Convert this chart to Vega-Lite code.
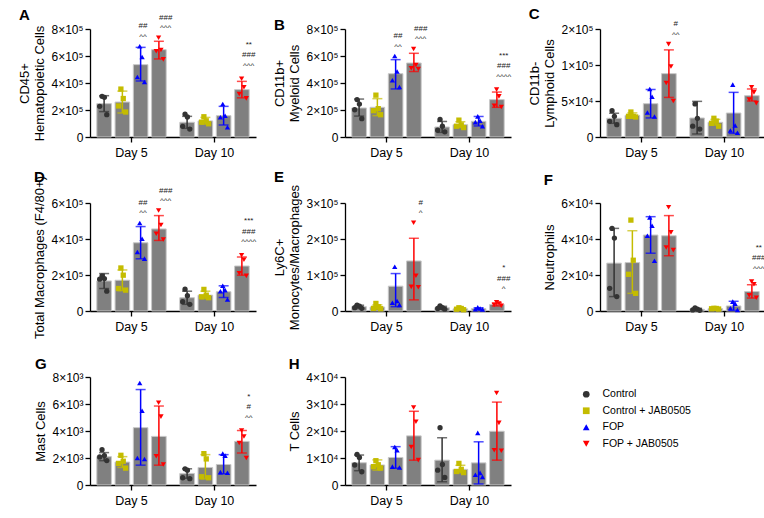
{
"$schema":"https://vega.github.io/schema/vega-lite/v6.json",
"padding":{"left":18,"top":6,"right":5,"bottom":5},
"background":"#ffffff",
"config":{
 "font":"Liberation Sans",
 "view":{"stroke":null},
 "axis":{"domainColor":"#000000","domainWidth":1.3,"tickColor":"#000000","tickWidth":1.3,"tickSize":5,"labelColor":"#000000","labelFontSize":12,"titleColor":"#000000","titleFontSize":13,"titleFontWeight":"normal","grid":false,"labelPadding":2,"titlePadding":4,"labelOverlap":false},
 "axisX":{"labelFontSize":12.5,"labelAngle":0,"labelPadding":4},
 "title":{"anchor":"start","frame":"bounds","fontSize":15,"fontWeight":"bold","color":"#000000","offset":2},
 "legend":{"padding":0}
},
"columns":3,
"bounds":"flush",
"spacing":{"row":66,"column":89},
"resolve":{"legend":{"color":"independent","shape":"independent"},"scale":{"xOffset":"independent"}},
"datasets":{"all":[
{"p":"A","d":"Day 5","g":"Control","k":"C1","v":301000},{"p":"A","d":"Day 5","g":"Control","k":"C2","v":294000},{"p":"A","d":"Day 5","g":"Control","k":"C3","v":227000},{"p":"A","d":"Day 5","g":"Control","k":"C4","v":165000},
{"p":"A","d":"Day 5","g":"Control + JAB0505","k":"J1","v":355000},{"p":"A","d":"Day 5","g":"Control + JAB0505","k":"J2","v":285000},{"p":"A","d":"Day 5","g":"Control + JAB0505","k":"J3","v":230000},{"p":"A","d":"Day 5","g":"Control + JAB0505","k":"J4","v":185000},
{"p":"A","d":"Day 5","g":"FOP","k":"F1","v":672000},{"p":"A","d":"Day 5","g":"FOP","k":"F2","v":593000},{"p":"A","d":"Day 5","g":"FOP","k":"F3","v":444000},{"p":"A","d":"Day 5","g":"FOP","k":"F4","v":407000},
{"p":"A","d":"Day 5","g":"FOP + JAB0505","k":"R1","v":735000},{"p":"A","d":"Day 5","g":"FOP + JAB0505","k":"R2","v":645000},{"p":"A","d":"Day 5","g":"FOP + JAB0505","k":"R3","v":635000},{"p":"A","d":"Day 5","g":"FOP + JAB0505","k":"R4","v":575000},
{"p":"A","d":"Day 10","g":"Control","k":"C1","v":170000},{"p":"A","d":"Day 10","g":"Control","k":"C2","v":148000},{"p":"A","d":"Day 10","g":"Control","k":"C3","v":79000},{"p":"A","d":"Day 10","g":"Control","k":"C4","v":59000},
{"p":"A","d":"Day 10","g":"Control + JAB0505","k":"J1","v":150000},{"p":"A","d":"Day 10","g":"Control + JAB0505","k":"J2","v":120000},{"p":"A","d":"Day 10","g":"Control + JAB0505","k":"J3","v":110000},{"p":"A","d":"Day 10","g":"Control + JAB0505","k":"J4","v":98000},
{"p":"A","d":"Day 10","g":"FOP","k":"F1","v":244000},{"p":"A","d":"Day 10","g":"FOP","k":"F2","v":158000},{"p":"A","d":"Day 10","g":"FOP","k":"F3","v":146000},{"p":"A","d":"Day 10","g":"FOP","k":"F4","v":72000},
{"p":"A","d":"Day 10","g":"FOP + JAB0505","k":"R1","v":432000},{"p":"A","d":"Day 10","g":"FOP + JAB0505","k":"R2","v":368000},{"p":"A","d":"Day 10","g":"FOP + JAB0505","k":"R3","v":319000},{"p":"A","d":"Day 10","g":"FOP + JAB0505","k":"R4","v":286000},
{"p":"A","d":"Day 5","g":"Control","m":247000,"lo":188000,"hi":306000},
{"p":"A","d":"Day 5","g":"Control + JAB0505","m":259000,"lo":178000,"hi":340000},
{"p":"A","d":"Day 5","g":"FOP","m":536000,"lo":415000,"hi":664000,"s":"##\n^^","top":672000},
{"p":"A","d":"Day 5","g":"FOP + JAB0505","m":647000,"lo":578000,"hi":709000,"s":"###\n^^^","top":735000},
{"p":"A","d":"Day 10","g":"Control","m":109000,"lo":64000,"hi":153000},
{"p":"A","d":"Day 10","g":"Control + JAB0505","m":119000,"lo":95000,"hi":145000},
{"p":"A","d":"Day 10","g":"FOP","m":158000,"lo":89000,"hi":227000},
{"p":"A","d":"Day 10","g":"FOP + JAB0505","m":351000,"lo":290000,"hi":412000,"s":"**\n###\n^^^","top":432000},

{"p":"B","d":"Day 5","g":"Control","k":"C1","v":277000},{"p":"B","d":"Day 5","g":"Control","k":"C2","v":244000},{"p":"B","d":"Day 5","g":"Control","k":"C3","v":202000},{"p":"B","d":"Day 5","g":"Control","k":"C4","v":136000},
{"p":"B","d":"Day 5","g":"Control + JAB0505","k":"J1","v":310000},{"p":"B","d":"Day 5","g":"Control + JAB0505","k":"J2","v":210000},{"p":"B","d":"Day 5","g":"Control + JAB0505","k":"J3","v":195000},{"p":"B","d":"Day 5","g":"Control + JAB0505","k":"J4","v":165000},
{"p":"B","d":"Day 5","g":"FOP","k":"F1","v":600000},{"p":"B","d":"Day 5","g":"FOP","k":"F2","v":485000},{"p":"B","d":"Day 5","g":"FOP","k":"F3","v":420000},{"p":"B","d":"Day 5","g":"FOP","k":"F4","v":370000},
{"p":"B","d":"Day 5","g":"FOP + JAB0505","k":"R1","v":652000},{"p":"B","d":"Day 5","g":"FOP + JAB0505","k":"R2","v":533000},{"p":"B","d":"Day 5","g":"FOP + JAB0505","k":"R3","v":509000},{"p":"B","d":"Day 5","g":"FOP + JAB0505","k":"R4","v":504000},
{"p":"B","d":"Day 10","g":"Control","k":"C1","v":130000},{"p":"B","d":"Day 10","g":"Control","k":"C2","v":80000},{"p":"B","d":"Day 10","g":"Control","k":"C3","v":50000},{"p":"B","d":"Day 10","g":"Control","k":"C4","v":38000},
{"p":"B","d":"Day 10","g":"Control + JAB0505","k":"J1","v":125000},{"p":"B","d":"Day 10","g":"Control + JAB0505","k":"J2","v":90000},{"p":"B","d":"Day 10","g":"Control + JAB0505","k":"J3","v":80000},{"p":"B","d":"Day 10","g":"Control + JAB0505","k":"J4","v":70000},
{"p":"B","d":"Day 10","g":"FOP","k":"F1","v":153000},{"p":"B","d":"Day 10","g":"FOP","k":"F2","v":120000},{"p":"B","d":"Day 10","g":"FOP","k":"F3","v":110000},{"p":"B","d":"Day 10","g":"FOP","k":"F4","v":80000},
{"p":"B","d":"Day 10","g":"FOP + JAB0505","k":"R1","v":351000},{"p":"B","d":"Day 10","g":"FOP + JAB0505","k":"R2","v":301000},{"p":"B","d":"Day 10","g":"FOP + JAB0505","k":"R3","v":232000},{"p":"B","d":"Day 10","g":"FOP + JAB0505","k":"R4","v":222000},
{"p":"B","d":"Day 5","g":"Control","m":215000,"lo":155000,"hi":281000},
{"p":"B","d":"Day 5","g":"Control + JAB0505","m":220000,"lo":158000,"hi":284000},
{"p":"B","d":"Day 5","g":"FOP","m":469000,"lo":356000,"hi":573000,"s":"##\n^^","top":600000},
{"p":"B","d":"Day 5","g":"FOP + JAB0505","m":548000,"lo":485000,"hi":620000,"s":"###\n^^^","top":652000},
{"p":"B","d":"Day 10","g":"Control","m":74000,"lo":34000,"hi":115000},
{"p":"B","d":"Day 10","g":"Control + JAB0505","m":91000,"lo":70000,"hi":113000},
{"p":"B","d":"Day 10","g":"FOP","m":116000,"lo":82000,"hi":152000},
{"p":"B","d":"Day 10","g":"FOP + JAB0505","m":277000,"lo":220000,"hi":333000,"s":"***\n###\n^^^^","top":351000},

{"p":"C","d":"Day 5","g":"Control","k":"C1","v":36600},{"p":"C","d":"Day 5","g":"Control","k":"C2","v":28700},{"p":"C","d":"Day 5","g":"Control","k":"C3","v":21800},{"p":"C","d":"Day 5","g":"Control","k":"C4","v":17100},
{"p":"C","d":"Day 5","g":"Control + JAB0505","k":"J1","v":34700},{"p":"C","d":"Day 5","g":"Control + JAB0505","k":"J2","v":28700},{"p":"C","d":"Day 5","g":"Control + JAB0505","k":"J3","v":28700},{"p":"C","d":"Day 5","g":"Control + JAB0505","k":"J4","v":27800},
{"p":"C","d":"Day 5","g":"FOP","k":"F1","v":66700},{"p":"C","d":"Day 5","g":"FOP","k":"F2","v":56000},{"p":"C","d":"Day 5","g":"FOP","k":"F3","v":34000},{"p":"C","d":"Day 5","g":"FOP","k":"F4","v":28500},
{"p":"C","d":"Day 5","g":"FOP + JAB0505","k":"R1","v":129000},{"p":"C","d":"Day 5","g":"FOP + JAB0505","k":"R2","v":98000},{"p":"C","d":"Day 5","g":"FOP + JAB0505","k":"R3","v":75000},{"p":"C","d":"Day 5","g":"FOP + JAB0505","k":"R4","v":50000},
{"p":"C","d":"Day 10","g":"Control","k":"C1","v":46000},{"p":"C","d":"Day 10","g":"Control","k":"C2","v":26000},{"p":"C","d":"Day 10","g":"Control","k":"C3","v":15000},{"p":"C","d":"Day 10","g":"Control","k":"C4","v":11000},
{"p":"C","d":"Day 10","g":"Control + JAB0505","k":"J1","v":26000},{"p":"C","d":"Day 10","g":"Control + JAB0505","k":"J2","v":22000},{"p":"C","d":"Day 10","g":"Control + JAB0505","k":"J3","v":19000},{"p":"C","d":"Day 10","g":"Control + JAB0505","k":"J4","v":15000},
{"p":"C","d":"Day 10","g":"FOP","k":"F1","v":72700},{"p":"C","d":"Day 10","g":"FOP","k":"F2","v":16000},{"p":"C","d":"Day 10","g":"FOP","k":"F3","v":9000},{"p":"C","d":"Day 10","g":"FOP","k":"F4","v":6000},
{"p":"C","d":"Day 10","g":"FOP + JAB0505","k":"R1","v":69000},{"p":"C","d":"Day 10","g":"FOP + JAB0505","k":"R2","v":62000},{"p":"C","d":"Day 10","g":"FOP + JAB0505","k":"R3","v":52000},{"p":"C","d":"Day 10","g":"FOP + JAB0505","k":"R4","v":47000},
{"p":"C","d":"Day 5","g":"Control","m":26000,"lo":19000,"hi":33000},
{"p":"C","d":"Day 5","g":"Control + JAB0505","m":30000,"lo":27000,"hi":33500},
{"p":"C","d":"Day 5","g":"FOP","m":46300,"lo":26500,"hi":66000},
{"p":"C","d":"Day 5","g":"FOP + JAB0505","m":88000,"lo":55000,"hi":121000,"s":"#\n^^","top":129000},
{"p":"C","d":"Day 10","g":"Control","m":26400,"lo":4200,"hi":49500},
{"p":"C","d":"Day 10","g":"Control + JAB0505","m":20400,"lo":16500,"hi":24500},
{"p":"C","d":"Day 10","g":"FOP","m":33300,"lo":5000,"hi":62000},
{"p":"C","d":"Day 10","g":"FOP + JAB0505","m":57400,"lo":50000,"hi":66700},

{"p":"D","d":"Day 5","g":"Control","k":"C1","v":195000},{"p":"D","d":"Day 5","g":"Control","k":"C2","v":180000},{"p":"D","d":"Day 5","g":"Control","k":"C3","v":177000},{"p":"D","d":"Day 5","g":"Control","k":"C4","v":110000},
{"p":"D","d":"Day 5","g":"Control + JAB0505","k":"J1","v":239000},{"p":"D","d":"Day 5","g":"Control + JAB0505","k":"J2","v":199000},{"p":"D","d":"Day 5","g":"Control + JAB0505","k":"J3","v":125000},{"p":"D","d":"Day 5","g":"Control + JAB0505","k":"J4","v":116000},
{"p":"D","d":"Day 5","g":"FOP","k":"F1","v":489000},{"p":"D","d":"Day 5","g":"FOP","k":"F2","v":401000},{"p":"D","d":"Day 5","g":"FOP","k":"F3","v":328000},{"p":"D","d":"Day 5","g":"FOP","k":"F4","v":291000},
{"p":"D","d":"Day 5","g":"FOP + JAB0505","k":"R1","v":558000},{"p":"D","d":"Day 5","g":"FOP + JAB0505","k":"R2","v":478000},{"p":"D","d":"Day 5","g":"FOP + JAB0505","k":"R3","v":429000},{"p":"D","d":"Day 5","g":"FOP + JAB0505","k":"R4","v":397000},
{"p":"D","d":"Day 10","g":"Control","k":"C1","v":121000},{"p":"D","d":"Day 10","g":"Control","k":"C2","v":85000},{"p":"D","d":"Day 10","g":"Control","k":"C3","v":52000},{"p":"D","d":"Day 10","g":"Control","k":"C4","v":37000},
{"p":"D","d":"Day 10","g":"Control + JAB0505","k":"J1","v":120000},{"p":"D","d":"Day 10","g":"Control + JAB0505","k":"J2","v":88000},{"p":"D","d":"Day 10","g":"Control + JAB0505","k":"J3","v":79000},{"p":"D","d":"Day 10","g":"Control + JAB0505","k":"J4","v":74000},
{"p":"D","d":"Day 10","g":"FOP","k":"F1","v":140000},{"p":"D","d":"Day 10","g":"FOP","k":"F2","v":116000},{"p":"D","d":"Day 10","g":"FOP","k":"F3","v":110000},{"p":"D","d":"Day 10","g":"FOP","k":"F4","v":64000},
{"p":"D","d":"Day 10","g":"FOP + JAB0505","k":"R1","v":310000},{"p":"D","d":"Day 10","g":"FOP + JAB0505","k":"R2","v":285000},{"p":"D","d":"Day 10","g":"FOP + JAB0505","k":"R3","v":210000},{"p":"D","d":"Day 10","g":"FOP + JAB0505","k":"R4","v":195000},
{"p":"D","d":"Day 5","g":"Control","m":167000,"lo":125000,"hi":208000},
{"p":"D","d":"Day 5","g":"Control + JAB0505","m":171000,"lo":113000,"hi":228000},
{"p":"D","d":"Day 5","g":"FOP","m":379000,"lo":290000,"hi":469000,"s":"##\n^^","top":489000},
{"p":"D","d":"Day 5","g":"FOP + JAB0505","m":456000,"lo":392000,"hi":530000,"s":"###\n^^^","top":558000},
{"p":"D","d":"Day 10","g":"Control","m":74000,"lo":37000,"hi":110000},
{"p":"D","d":"Day 10","g":"Control + JAB0505","m":88000,"lo":68000,"hi":110000},
{"p":"D","d":"Day 10","g":"FOP","m":107000,"lo":75000,"hi":140000},
{"p":"D","d":"Day 10","g":"FOP + JAB0505","m":250000,"lo":199000,"hi":300000,"s":"***\n###\n^^^^","top":310000},

{"p":"E","d":"Day 5","g":"Control","k":"C1","v":16500},{"p":"E","d":"Day 5","g":"Control","k":"C2","v":13700},{"p":"E","d":"Day 5","g":"Control","k":"C3","v":9200},{"p":"E","d":"Day 5","g":"Control","k":"C4","v":7300},
{"p":"E","d":"Day 5","g":"Control + JAB0505","k":"J1","v":21000},{"p":"E","d":"Day 5","g":"Control + JAB0505","k":"J2","v":11900},{"p":"E","d":"Day 5","g":"Control + JAB0505","k":"J3","v":7300},{"p":"E","d":"Day 5","g":"Control + JAB0505","k":"J4","v":6400},
{"p":"E","d":"Day 5","g":"FOP","k":"F1","v":123000},{"p":"E","d":"Day 5","g":"FOP","k":"F2","v":28000},{"p":"E","d":"Day 5","g":"FOP","k":"F3","v":23000},{"p":"E","d":"Day 5","g":"FOP","k":"F4","v":17000},
{"p":"E","d":"Day 5","g":"FOP + JAB0505","k":"R1","v":245000},{"p":"E","d":"Day 5","g":"FOP + JAB0505","k":"R2","v":98000},{"p":"E","d":"Day 5","g":"FOP + JAB0505","k":"R3","v":67000},{"p":"E","d":"Day 5","g":"FOP + JAB0505","k":"R4","v":66000},
{"p":"E","d":"Day 10","g":"Control","k":"C1","v":14000},{"p":"E","d":"Day 10","g":"Control","k":"C2","v":9000},{"p":"E","d":"Day 10","g":"Control","k":"C3","v":7000},{"p":"E","d":"Day 10","g":"Control","k":"C4","v":5000},
{"p":"E","d":"Day 10","g":"Control + JAB0505","k":"J1","v":9000},{"p":"E","d":"Day 10","g":"Control + JAB0505","k":"J2","v":7000},{"p":"E","d":"Day 10","g":"Control + JAB0505","k":"J3","v":5000},{"p":"E","d":"Day 10","g":"Control + JAB0505","k":"J4","v":3500},
{"p":"E","d":"Day 10","g":"FOP","k":"F1","v":10000},{"p":"E","d":"Day 10","g":"FOP","k":"F2","v":7000},{"p":"E","d":"Day 10","g":"FOP","k":"F3","v":5000},{"p":"E","d":"Day 10","g":"FOP","k":"F4","v":4000},
{"p":"E","d":"Day 10","g":"FOP + JAB0505","k":"R1","v":24000},{"p":"E","d":"Day 10","g":"FOP + JAB0505","k":"R2","v":21000},{"p":"E","d":"Day 10","g":"FOP + JAB0505","k":"R3","v":16500},{"p":"E","d":"Day 10","g":"FOP + JAB0505","k":"R4","v":14600},
{"p":"E","d":"Day 5","g":"Control","m":12000,"lo":8000,"hi":16000},
{"p":"E","d":"Day 5","g":"Control + JAB0505","m":11000,"lo":5000,"hi":17000},
{"p":"E","d":"Day 5","g":"FOP","m":69000,"lo":12000,"hi":104000},
{"p":"E","d":"Day 5","g":"FOP + JAB0505","m":139000,"lo":31000,"hi":202000,"s":"#\n^","top":245000},
{"p":"E","d":"Day 10","g":"Control","m":9000,"lo":5000,"hi":13000},
{"p":"E","d":"Day 10","g":"Control + JAB0505","m":6000,"lo":3500,"hi":8500},
{"p":"E","d":"Day 10","g":"FOP","m":6500,"lo":4000,"hi":9000},
{"p":"E","d":"Day 10","g":"FOP + JAB0505","m":18000,"lo":14000,"hi":22500,"s":"*\n###\n^","top":24000},

{"p":"F","d":"Day 5","g":"Control","k":"C1","v":45900},{"p":"F","d":"Day 5","g":"Control","k":"C2","v":40500},{"p":"F","d":"Day 5","g":"Control","k":"C3","v":12600},{"p":"F","d":"Day 5","g":"Control","k":"C4","v":8000},
{"p":"F","d":"Day 5","g":"Control + JAB0505","k":"J1","v":50500},{"p":"F","d":"Day 5","g":"Control + JAB0505","k":"J2","v":28200},{"p":"F","d":"Day 5","g":"Control + JAB0505","k":"J3","v":20400},{"p":"F","d":"Day 5","g":"Control + JAB0505","k":"J4","v":9800},
{"p":"F","d":"Day 5","g":"FOP","k":"F1","v":52000},{"p":"F","d":"Day 5","g":"FOP","k":"F2","v":47400},{"p":"F","d":"Day 5","g":"FOP","k":"F3","v":41800},{"p":"F","d":"Day 5","g":"FOP","k":"F4","v":27900},
{"p":"F","d":"Day 5","g":"FOP + JAB0505","k":"R1","v":57600},{"p":"F","d":"Day 5","g":"FOP + JAB0505","k":"R2","v":43700},{"p":"F","d":"Day 5","g":"FOP + JAB0505","k":"R3","v":35300},{"p":"F","d":"Day 5","g":"FOP + JAB0505","k":"R4","v":33800},
{"p":"F","d":"Day 10","g":"Control","k":"C1","v":1700},{"p":"F","d":"Day 10","g":"Control","k":"C2","v":1000},{"p":"F","d":"Day 10","g":"Control","k":"C3","v":600},{"p":"F","d":"Day 10","g":"Control","k":"C4","v":400},
{"p":"F","d":"Day 10","g":"Control + JAB0505","k":"J1","v":1500},{"p":"F","d":"Day 10","g":"Control + JAB0505","k":"J2","v":1400},{"p":"F","d":"Day 10","g":"Control + JAB0505","k":"J3","v":1250},{"p":"F","d":"Day 10","g":"Control + JAB0505","k":"J4","v":1100},
{"p":"F","d":"Day 10","g":"FOP","k":"F1","v":5200},{"p":"F","d":"Day 10","g":"FOP","k":"F2","v":4100},{"p":"F","d":"Day 10","g":"FOP","k":"F3","v":1500},{"p":"F","d":"Day 10","g":"FOP","k":"F4","v":600},
{"p":"F","d":"Day 10","g":"FOP + JAB0505","k":"R1","v":16300},{"p":"F","d":"Day 10","g":"FOP + JAB0505","k":"R2","v":14900},{"p":"F","d":"Day 10","g":"FOP + JAB0505","k":"R3","v":8700},{"p":"F","d":"Day 10","g":"FOP + JAB0505","k":"R4","v":7400},
{"p":"F","d":"Day 5","g":"Control","m":26600,"lo":8000,"hi":45900},
{"p":"F","d":"Day 5","g":"Control + JAB0505","m":26900,"lo":9800,"hi":44600},
{"p":"F","d":"Day 5","g":"FOP","m":42200,"lo":32100,"hi":52400},
{"p":"F","d":"Day 5","g":"FOP + JAB0505","m":41800,"lo":30700,"hi":53000},
{"p":"F","d":"Day 10","g":"Control","m":930,"lo":400,"hi":1500},
{"p":"F","d":"Day 10","g":"Control + JAB0505","m":1300,"lo":1100,"hi":1500},
{"p":"F","d":"Day 10","g":"FOP","m":2800,"lo":300,"hi":5400},
{"p":"F","d":"Day 10","g":"FOP + JAB0505","m":10800,"lo":7200,"hi":14600,"s":"**\n###\n^^^","top":16300},

{"p":"G","d":"Day 5","g":"Control","k":"C1","v":2617},{"p":"G","d":"Day 5","g":"Control","k":"C2","v":2177},{"p":"G","d":"Day 5","g":"Control","k":"C3","v":2080},{"p":"G","d":"Day 5","g":"Control","k":"C4","v":1810},
{"p":"G","d":"Day 5","g":"Control + JAB0505","k":"J1","v":2200},{"p":"G","d":"Day 5","g":"Control + JAB0505","k":"J2","v":1760},{"p":"G","d":"Day 5","g":"Control + JAB0505","k":"J3","v":1600},{"p":"G","d":"Day 5","g":"Control + JAB0505","k":"J4","v":1250},
{"p":"G","d":"Day 5","g":"FOP","k":"F1","v":7558},{"p":"G","d":"Day 5","g":"FOP","k":"F2","v":5504},{"p":"G","d":"Day 5","g":"FOP","k":"F3","v":2006},{"p":"G","d":"Day 5","g":"FOP","k":"F4","v":1932},
{"p":"G","d":"Day 5","g":"FOP + JAB0505","k":"R1","v":6091},{"p":"G","d":"Day 5","g":"FOP + JAB0505","k":"R2","v":5063},{"p":"G","d":"Day 5","g":"FOP + JAB0505","k":"R3","v":2128},{"p":"G","d":"Day 5","g":"FOP + JAB0505","k":"R4","v":1517},
{"p":"G","d":"Day 10","g":"Control","k":"C1","v":1199},{"p":"G","d":"Day 10","g":"Control","k":"C2","v":1100},{"p":"G","d":"Day 10","g":"Control","k":"C3","v":538},{"p":"G","d":"Day 10","g":"Control","k":"C4","v":465},
{"p":"G","d":"Day 10","g":"Control + JAB0505","k":"J1","v":2324},{"p":"G","d":"Day 10","g":"Control + JAB0505","k":"J2","v":1932},{"p":"G","d":"Day 10","g":"Control + JAB0505","k":"J3","v":611},{"p":"G","d":"Day 10","g":"Control + JAB0505","k":"J4","v":538},
{"p":"G","d":"Day 10","g":"FOP","k":"F1","v":2324},{"p":"G","d":"Day 10","g":"FOP","k":"F2","v":2177},{"p":"G","d":"Day 10","g":"FOP","k":"F3","v":954},{"p":"G","d":"Day 10","g":"FOP","k":"F4","v":905},
{"p":"G","d":"Day 10","g":"FOP + JAB0505","k":"R1","v":4036},{"p":"G","d":"Day 10","g":"FOP + JAB0505","k":"R2","v":3596},{"p":"G","d":"Day 10","g":"FOP + JAB0505","k":"R3","v":3106},{"p":"G","d":"Day 10","g":"FOP + JAB0505","k":"R4","v":2006},
{"p":"G","d":"Day 5","g":"Control","m":2100,"lo":1800,"hi":2400},
{"p":"G","d":"Day 5","g":"Control + JAB0505","m":1700,"lo":1300,"hi":2100},
{"p":"G","d":"Day 5","g":"FOP","m":4250,"lo":1470,"hi":7070},
{"p":"G","d":"Day 5","g":"FOP + JAB0505","m":3600,"lo":1470,"hi":5850},
{"p":"G","d":"Day 10","g":"Control","m":856,"lo":500,"hi":1200},
{"p":"G","d":"Day 10","g":"Control + JAB0505","m":1300,"lo":450,"hi":2250},
{"p":"G","d":"Day 10","g":"FOP","m":1520,"lo":830,"hi":2250},
{"p":"G","d":"Day 10","g":"FOP + JAB0505","m":3230,"lo":2370,"hi":4036,"s":"*\n#\n^^","top":4036},

{"p":"H","d":"Day 5","g":"Control","k":"C1","v":11300},{"p":"H","d":"Day 5","g":"Control","k":"C2","v":10200},{"p":"H","d":"Day 5","g":"Control","k":"C3","v":7400},{"p":"H","d":"Day 5","g":"Control","k":"C4","v":4900},
{"p":"H","d":"Day 5","g":"Control + JAB0505","k":"J1","v":9000},{"p":"H","d":"Day 5","g":"Control + JAB0505","k":"J2","v":7500},{"p":"H","d":"Day 5","g":"Control + JAB0505","k":"J3","v":6800},{"p":"H","d":"Day 5","g":"Control + JAB0505","k":"J4","v":6300},
{"p":"H","d":"Day 5","g":"FOP","k":"F1","v":14100},{"p":"H","d":"Day 5","g":"FOP","k":"F2","v":12900},{"p":"H","d":"Day 5","g":"FOP","k":"F3","v":6800},{"p":"H","d":"Day 5","g":"FOP","k":"F4","v":6500},
{"p":"H","d":"Day 5","g":"FOP + JAB0505","k":"R1","v":28700},{"p":"H","d":"Day 5","g":"FOP + JAB0505","k":"R2","v":23400},{"p":"H","d":"Day 5","g":"FOP + JAB0505","k":"R3","v":14100},{"p":"H","d":"Day 5","g":"FOP + JAB0505","k":"R4","v":9200},
{"p":"H","d":"Day 10","g":"Control","k":"C1","v":21200},{"p":"H","d":"Day 10","g":"Control","k":"C2","v":7600},{"p":"H","d":"Day 10","g":"Control","k":"C3","v":5500},{"p":"H","d":"Day 10","g":"Control","k":"C4","v":2800},
{"p":"H","d":"Day 10","g":"Control + JAB0505","k":"J1","v":8000},{"p":"H","d":"Day 10","g":"Control + JAB0505","k":"J2","v":5800},{"p":"H","d":"Day 10","g":"Control + JAB0505","k":"J3","v":5000},{"p":"H","d":"Day 10","g":"Control + JAB0505","k":"J4","v":4600},
{"p":"H","d":"Day 10","g":"FOP","k":"F1","v":19300},{"p":"H","d":"Day 10","g":"FOP","k":"F2","v":4500},{"p":"H","d":"Day 10","g":"FOP","k":"F3","v":3800},{"p":"H","d":"Day 10","g":"FOP","k":"F4","v":3000},
{"p":"H","d":"Day 10","g":"FOP + JAB0505","k":"R1","v":34100},{"p":"H","d":"Day 10","g":"FOP + JAB0505","k":"R2","v":23000},{"p":"H","d":"Day 10","g":"FOP + JAB0505","k":"R3","v":12900},{"p":"H","d":"Day 10","g":"FOP + JAB0505","k":"R4","v":12700},
{"p":"H","d":"Day 5","g":"Control","m":8240,"lo":5300,"hi":11100},
{"p":"H","d":"Day 5","g":"Control + JAB0505","m":7400,"lo":5500,"hi":9300},
{"p":"H","d":"Day 5","g":"FOP","m":10200,"lo":6200,"hi":14200},
{"p":"H","d":"Day 5","g":"FOP + JAB0505","m":18200,"lo":9200,"hi":27300},
{"p":"H","d":"Day 10","g":"Control","m":9200,"lo":1200,"hi":17500},
{"p":"H","d":"Day 10","g":"Control + JAB0505","m":5800,"lo":4500,"hi":7300},
{"p":"H","d":"Day 10","g":"FOP","m":8200,"lo":400,"hi":16000},
{"p":"H","d":"Day 10","g":"FOP + JAB0505","m":19900,"lo":9200,"hi":30700}
]},
"concat":[
{"title":{"text":"A","dy":11.5},"width":166,"height":108,"data":{"name":"all"},"transform":[{"filter":"datum.p=='A'"}],
 "encoding":{"x":{"field":"d","type":"nominal","title":null,"sort":["Day 5","Day 10"],"scale":{"paddingInner":0.12,"paddingOuter":0.06}},"xOffset":{"field":"g","type":"nominal","scale":{"domain":["Control","Control + JAB0505","FOP","FOP + JAB0505"],"paddingInner":0.2,"paddingOuter":0.1}},"color":{"field":"g","type":"nominal","scale":{"domain":["Control","Control + JAB0505","FOP","FOP + JAB0505"],"range":["#333333","#c4bc00","#0000ff","#ff0000"]},"legend":null}},
 "layer":[
  {"transform":[{"filter":"isValid(datum.m)"}],"mark":{"type":"bar","stroke":"#c8c8c8","strokeWidth":1},"encoding":{"color":{"value":"#808080"},"y":{"field":"m","type":"quantitative","stack":null,"scale":{"domain":[0,800000],"nice":false},"axis":{"values":[0,200000,400000,600000,800000],"tickCount":12,"labelOverlap":false,"labelExpr":"datum.value==0?'0':(datum.value/100000)+'×10⁵'","title":["CD45+","Hematopoietic Cells"]}}}},
  {"transform":[{"filter":"isValid(datum.lo)"}],"mark":{"type":"rule","strokeWidth":1.5},"encoding":{"y":{"field":"lo","type":"quantitative"},"y2":{"field":"hi"}}},
  {"transform":[{"filter":"isValid(datum.hi)"}],"mark":{"type":"tick","orient":"horizontal","size":10,"thickness":1.5},"encoding":{"y":{"field":"hi","type":"quantitative"}}},
  {"transform":[{"filter":"isValid(datum.lo)"}],"mark":{"type":"tick","orient":"horizontal","size":10,"thickness":1.5},"encoding":{"y":{"field":"lo","type":"quantitative"}}},
  {"transform":[{"filter":"isValid(datum.v)"}],"mark":{"type":"point","filled":true,"size":28,"opacity":1},"encoding":{"xOffset":{"field":"k","type":"nominal","scale":{"domain":["Ca","Cb","C3","C1","C2","C4","Cc","Cd","Ja","Jb","J3","J1","J2","J4","Jc","Jd","Fa","Fb","F3","F1","F2","F4","Fc","Fd","Ra","Rb","R3","R1","R2","R4","Rc","Rd"],"paddingInner":0,"paddingOuter":0}},"y":{"field":"v","type":"quantitative"},"shape":{"field":"g","type":"nominal","scale":{"domain":["Control","Control + JAB0505","FOP","FOP + JAB0505"],"range":["circle","square","triangle-up","triangle-down"]},"legend":null}}},
  {"transform":[{"filter":"isValid(datum.top)"}],"mark":{"type":"text","color":"#1a1a1a","baseline":"bottom","dy":{"expr":"-2 - 14*(length(split(datum.s,'\\n'))-1)"},"fontSize":8,"lineBreak":"\n","lineHeight":10.5},"encoding":{"y":{"field":"top","type":"quantitative"},"text":{"field":"s"},"color":{"value":"#1a1a1a"}}}
 ],
 "resolve":{"scale":{"xOffset":"independent"}}},
{"title":{"text":"B","dy":11.5},"width":166,"height":108,"data":{"name":"all"},"transform":[{"filter":"datum.p=='B'"}],
 "encoding":{"x":{"field":"d","type":"nominal","title":null,"sort":["Day 5","Day 10"],"scale":{"paddingInner":0.12,"paddingOuter":0.06}},"xOffset":{"field":"g","type":"nominal","scale":{"domain":["Control","Control + JAB0505","FOP","FOP + JAB0505"],"paddingInner":0.2,"paddingOuter":0.1}},"color":{"field":"g","type":"nominal","scale":{"domain":["Control","Control + JAB0505","FOP","FOP + JAB0505"],"range":["#333333","#c4bc00","#0000ff","#ff0000"]},"legend":null}},
 "layer":[
  {"transform":[{"filter":"isValid(datum.m)"}],"mark":{"type":"bar","stroke":"#c8c8c8","strokeWidth":1},"encoding":{"color":{"value":"#808080"},"y":{"field":"m","type":"quantitative","stack":null,"scale":{"domain":[0,800000],"nice":false},"axis":{"values":[0,200000,400000,600000,800000],"tickCount":12,"labelOverlap":false,"labelExpr":"datum.value==0?'0':(datum.value/100000)+'×10⁵'","title":["CD11b+","Myeloid Cells"]}}}},
  {"transform":[{"filter":"isValid(datum.lo)"}],"mark":{"type":"rule","strokeWidth":1.5},"encoding":{"y":{"field":"lo","type":"quantitative"},"y2":{"field":"hi"}}},
  {"transform":[{"filter":"isValid(datum.hi)"}],"mark":{"type":"tick","orient":"horizontal","size":10,"thickness":1.5},"encoding":{"y":{"field":"hi","type":"quantitative"}}},
  {"transform":[{"filter":"isValid(datum.lo)"}],"mark":{"type":"tick","orient":"horizontal","size":10,"thickness":1.5},"encoding":{"y":{"field":"lo","type":"quantitative"}}},
  {"transform":[{"filter":"isValid(datum.v)"}],"mark":{"type":"point","filled":true,"size":28,"opacity":1},"encoding":{"xOffset":{"field":"k","type":"nominal","scale":{"domain":["Ca","Cb","C3","C1","C2","C4","Cc","Cd","Ja","Jb","J3","J1","J2","J4","Jc","Jd","Fa","Fb","F3","F1","F2","F4","Fc","Fd","Ra","Rb","R3","R1","R2","R4","Rc","Rd"],"paddingInner":0,"paddingOuter":0}},"y":{"field":"v","type":"quantitative"},"shape":{"field":"g","type":"nominal","scale":{"domain":["Control","Control + JAB0505","FOP","FOP + JAB0505"],"range":["circle","square","triangle-up","triangle-down"]},"legend":null}}},
  {"transform":[{"filter":"isValid(datum.top)"}],"mark":{"type":"text","color":"#1a1a1a","baseline":"bottom","dy":{"expr":"-2 - 14*(length(split(datum.s,'\\n'))-1)"},"fontSize":8,"lineBreak":"\n","lineHeight":10.5},"encoding":{"y":{"field":"top","type":"quantitative"},"text":{"field":"s"},"color":{"value":"#1a1a1a"}}}
 ],
 "resolve":{"scale":{"xOffset":"independent"}}},
{"title":{"text":"C","dy":3.5},"width":166,"height":108,"data":{"name":"all"},"transform":[{"filter":"datum.p=='C'"}],
 "encoding":{"x":{"field":"d","type":"nominal","title":null,"sort":["Day 5","Day 10"],"scale":{"paddingInner":0.12,"paddingOuter":0.06}},"xOffset":{"field":"g","type":"nominal","scale":{"domain":["Control","Control + JAB0505","FOP","FOP + JAB0505"],"paddingInner":0.2,"paddingOuter":0.1}},"color":{"field":"g","type":"nominal","scale":{"domain":["Control","Control + JAB0505","FOP","FOP + JAB0505"],"range":["#333333","#c4bc00","#0000ff","#ff0000"]},"legend":null}},
 "layer":[
  {"transform":[{"filter":"isValid(datum.m)"}],"mark":{"type":"bar","stroke":"#c8c8c8","strokeWidth":1},"encoding":{"color":{"value":"#808080"},"y":{"field":"m","type":"quantitative","stack":null,"scale":{"domain":[0,150000],"nice":false},"axis":{"values":[0,50000,100000,150000],"tickCount":12,"labelOverlap":false,"labelExpr":"datum.value==0?'0':datum.value==50000?'5×10⁴':datum.value==100000?'1×10⁵':'2×10⁵'","title":["CD11b-","Lymphoid Cells"]}}}},
  {"transform":[{"filter":"isValid(datum.lo)"}],"mark":{"type":"rule","strokeWidth":1.5},"encoding":{"y":{"field":"lo","type":"quantitative"},"y2":{"field":"hi"}}},
  {"transform":[{"filter":"isValid(datum.hi)"}],"mark":{"type":"tick","orient":"horizontal","size":10,"thickness":1.5},"encoding":{"y":{"field":"hi","type":"quantitative"}}},
  {"transform":[{"filter":"isValid(datum.lo)"}],"mark":{"type":"tick","orient":"horizontal","size":10,"thickness":1.5},"encoding":{"y":{"field":"lo","type":"quantitative"}}},
  {"transform":[{"filter":"isValid(datum.v)"}],"mark":{"type":"point","filled":true,"size":28,"opacity":1},"encoding":{"xOffset":{"field":"k","type":"nominal","scale":{"domain":["Ca","Cb","C3","C1","C2","C4","Cc","Cd","Ja","Jb","J3","J1","J2","J4","Jc","Jd","Fa","Fb","F3","F1","F2","F4","Fc","Fd","Ra","Rb","R3","R1","R2","R4","Rc","Rd"],"paddingInner":0,"paddingOuter":0}},"y":{"field":"v","type":"quantitative"},"shape":{"field":"g","type":"nominal","scale":{"domain":["Control","Control + JAB0505","FOP","FOP + JAB0505"],"range":["circle","square","triangle-up","triangle-down"]},"legend":null}}},
  {"transform":[{"filter":"isValid(datum.top)"}],"mark":{"type":"text","color":"#1a1a1a","baseline":"bottom","dy":{"expr":"-2 - 14*(length(split(datum.s,'\\n'))-1)"},"fontSize":8,"lineBreak":"\n","lineHeight":10.5},"encoding":{"y":{"field":"top","type":"quantitative"},"text":{"field":"s"},"color":{"value":"#1a1a1a"}}}
 ],
 "resolve":{"scale":{"xOffset":"independent"}}},
{"title":{"text":"D","dy":11},"width":166,"height":108,"data":{"name":"all"},"transform":[{"filter":"datum.p=='D'"}],
 "encoding":{"x":{"field":"d","type":"nominal","title":null,"sort":["Day 5","Day 10"],"scale":{"paddingInner":0.12,"paddingOuter":0.06}},"xOffset":{"field":"g","type":"nominal","scale":{"domain":["Control","Control + JAB0505","FOP","FOP + JAB0505"],"paddingInner":0.2,"paddingOuter":0.1}},"color":{"field":"g","type":"nominal","scale":{"domain":["Control","Control + JAB0505","FOP","FOP + JAB0505"],"range":["#333333","#c4bc00","#0000ff","#ff0000"]},"legend":null}},
 "layer":[
  {"transform":[{"filter":"isValid(datum.m)"}],"mark":{"type":"bar","stroke":"#c8c8c8","strokeWidth":1},"encoding":{"color":{"value":"#808080"},"y":{"field":"m","type":"quantitative","stack":null,"scale":{"domain":[0,600000],"nice":false},"axis":{"values":[0,200000,400000,600000],"tickCount":12,"labelOverlap":false,"labelExpr":"datum.value==0?'0':(datum.value/100000)+'×10⁵'","title":"Total Macrophages (F4/80+)"}}}},
  {"transform":[{"filter":"isValid(datum.lo)"}],"mark":{"type":"rule","strokeWidth":1.5},"encoding":{"y":{"field":"lo","type":"quantitative"},"y2":{"field":"hi"}}},
  {"transform":[{"filter":"isValid(datum.hi)"}],"mark":{"type":"tick","orient":"horizontal","size":10,"thickness":1.5},"encoding":{"y":{"field":"hi","type":"quantitative"}}},
  {"transform":[{"filter":"isValid(datum.lo)"}],"mark":{"type":"tick","orient":"horizontal","size":10,"thickness":1.5},"encoding":{"y":{"field":"lo","type":"quantitative"}}},
  {"transform":[{"filter":"isValid(datum.v)"}],"mark":{"type":"point","filled":true,"size":28,"opacity":1},"encoding":{"xOffset":{"field":"k","type":"nominal","scale":{"domain":["Ca","Cb","C3","C1","C2","C4","Cc","Cd","Ja","Jb","J3","J1","J2","J4","Jc","Jd","Fa","Fb","F3","F1","F2","F4","Fc","Fd","Ra","Rb","R3","R1","R2","R4","Rc","Rd"],"paddingInner":0,"paddingOuter":0}},"y":{"field":"v","type":"quantitative"},"shape":{"field":"g","type":"nominal","scale":{"domain":["Control","Control + JAB0505","FOP","FOP + JAB0505"],"range":["circle","square","triangle-up","triangle-down"]},"legend":null}}},
  {"transform":[{"filter":"isValid(datum.top)"}],"mark":{"type":"text","color":"#1a1a1a","baseline":"bottom","dy":{"expr":"-2 - 14*(length(split(datum.s,'\\n'))-1)"},"fontSize":8,"lineBreak":"\n","lineHeight":10.5},"encoding":{"y":{"field":"top","type":"quantitative"},"text":{"field":"s"},"color":{"value":"#1a1a1a"}}}
 ],
 "resolve":{"scale":{"xOffset":"independent"}}},
{"title":{"text":"E","dy":3},"width":166,"height":108,"data":{"name":"all"},"transform":[{"filter":"datum.p=='E'"}],
 "encoding":{"x":{"field":"d","type":"nominal","title":null,"sort":["Day 5","Day 10"],"scale":{"paddingInner":0.12,"paddingOuter":0.06}},"xOffset":{"field":"g","type":"nominal","scale":{"domain":["Control","Control + JAB0505","FOP","FOP + JAB0505"],"paddingInner":0.2,"paddingOuter":0.1}},"color":{"field":"g","type":"nominal","scale":{"domain":["Control","Control + JAB0505","FOP","FOP + JAB0505"],"range":["#333333","#c4bc00","#0000ff","#ff0000"]},"legend":null}},
 "layer":[
  {"transform":[{"filter":"isValid(datum.m)"}],"mark":{"type":"bar","stroke":"#c8c8c8","strokeWidth":1},"encoding":{"color":{"value":"#808080"},"y":{"field":"m","type":"quantitative","stack":null,"scale":{"domain":[0,300000],"nice":false},"axis":{"values":[0,100000,200000,300000],"tickCount":12,"labelOverlap":false,"labelExpr":"datum.value==0?'0':(datum.value/100000)+'×10⁵'","title":["Ly6C+","Monocytes/Macrophages"]}}}},
  {"transform":[{"filter":"isValid(datum.lo)"}],"mark":{"type":"rule","strokeWidth":1.5},"encoding":{"y":{"field":"lo","type":"quantitative"},"y2":{"field":"hi"}}},
  {"transform":[{"filter":"isValid(datum.hi)"}],"mark":{"type":"tick","orient":"horizontal","size":10,"thickness":1.5},"encoding":{"y":{"field":"hi","type":"quantitative"}}},
  {"transform":[{"filter":"isValid(datum.lo)"}],"mark":{"type":"tick","orient":"horizontal","size":10,"thickness":1.5},"encoding":{"y":{"field":"lo","type":"quantitative"}}},
  {"transform":[{"filter":"isValid(datum.v)"}],"mark":{"type":"point","filled":true,"size":28,"opacity":1},"encoding":{"xOffset":{"field":"k","type":"nominal","scale":{"domain":["Ca","Cb","C3","C1","C2","C4","Cc","Cd","Ja","Jb","J3","J1","J2","J4","Jc","Jd","Fa","Fb","F3","F1","F2","F4","Fc","Fd","Ra","Rb","R3","R1","R2","R4","Rc","Rd"],"paddingInner":0,"paddingOuter":0}},"y":{"field":"v","type":"quantitative"},"shape":{"field":"g","type":"nominal","scale":{"domain":["Control","Control + JAB0505","FOP","FOP + JAB0505"],"range":["circle","square","triangle-up","triangle-down"]},"legend":null}}},
  {"transform":[{"filter":"isValid(datum.top)"}],"mark":{"type":"text","color":"#1a1a1a","baseline":"bottom","dy":{"expr":"-2 - 14*(length(split(datum.s,'\\n'))-1)"},"fontSize":8,"lineBreak":"\n","lineHeight":10.5},"encoding":{"y":{"field":"top","type":"quantitative"},"text":{"field":"s"},"color":{"value":"#1a1a1a"}}}
 ],
 "resolve":{"scale":{"xOffset":"independent"}}},
{"title":{"text":"F","dy":-7},"width":166,"height":108,"data":{"name":"all"},"transform":[{"filter":"datum.p=='F'"}],
 "encoding":{"x":{"field":"d","type":"nominal","title":null,"sort":["Day 5","Day 10"],"scale":{"paddingInner":0.12,"paddingOuter":0.06}},"xOffset":{"field":"g","type":"nominal","scale":{"domain":["Control","Control + JAB0505","FOP","FOP + JAB0505"],"paddingInner":0.2,"paddingOuter":0.1}},"color":{"field":"g","type":"nominal","scale":{"domain":["Control","Control + JAB0505","FOP","FOP + JAB0505"],"range":["#333333","#c4bc00","#0000ff","#ff0000"]},"legend":null}},
 "layer":[
  {"transform":[{"filter":"isValid(datum.m)"}],"mark":{"type":"bar","stroke":"#c8c8c8","strokeWidth":1},"encoding":{"color":{"value":"#808080"},"y":{"field":"m","type":"quantitative","stack":null,"scale":{"domain":[0,60000],"nice":false},"axis":{"values":[0,20000,40000,60000],"tickCount":12,"labelOverlap":false,"labelExpr":"datum.value==0?'0':(datum.value/10000)+'×10⁴'","title":"Neutrophils"}}}},
  {"transform":[{"filter":"isValid(datum.lo)"}],"mark":{"type":"rule","strokeWidth":1.5},"encoding":{"y":{"field":"lo","type":"quantitative"},"y2":{"field":"hi"}}},
  {"transform":[{"filter":"isValid(datum.hi)"}],"mark":{"type":"tick","orient":"horizontal","size":10,"thickness":1.5},"encoding":{"y":{"field":"hi","type":"quantitative"}}},
  {"transform":[{"filter":"isValid(datum.lo)"}],"mark":{"type":"tick","orient":"horizontal","size":10,"thickness":1.5},"encoding":{"y":{"field":"lo","type":"quantitative"}}},
  {"transform":[{"filter":"isValid(datum.v)"}],"mark":{"type":"point","filled":true,"size":28,"opacity":1},"encoding":{"xOffset":{"field":"k","type":"nominal","scale":{"domain":["Ca","Cb","C3","C1","C2","C4","Cc","Cd","Ja","Jb","J3","J1","J2","J4","Jc","Jd","Fa","Fb","F3","F1","F2","F4","Fc","Fd","Ra","Rb","R3","R1","R2","R4","Rc","Rd"],"paddingInner":0,"paddingOuter":0}},"y":{"field":"v","type":"quantitative"},"shape":{"field":"g","type":"nominal","scale":{"domain":["Control","Control + JAB0505","FOP","FOP + JAB0505"],"range":["circle","square","triangle-up","triangle-down"]},"legend":null}}},
  {"transform":[{"filter":"isValid(datum.top)"}],"mark":{"type":"text","color":"#1a1a1a","baseline":"bottom","dy":{"expr":"-2 - 14*(length(split(datum.s,'\\n'))-1)"},"fontSize":8,"lineBreak":"\n","lineHeight":10.5},"encoding":{"y":{"field":"top","type":"quantitative"},"text":{"field":"s"},"color":{"value":"#1a1a1a"}}}
 ],
 "resolve":{"scale":{"xOffset":"independent"}}},
{"title":{"text":"G","dy":3},"width":166,"height":108,"data":{"name":"all"},"transform":[{"filter":"datum.p=='G'"}],
 "encoding":{"x":{"field":"d","type":"nominal","title":null,"sort":["Day 5","Day 10"],"scale":{"paddingInner":0.12,"paddingOuter":0.06}},"xOffset":{"field":"g","type":"nominal","scale":{"domain":["Control","Control + JAB0505","FOP","FOP + JAB0505"],"paddingInner":0.2,"paddingOuter":0.1}},"color":{"field":"g","type":"nominal","scale":{"domain":["Control","Control + JAB0505","FOP","FOP + JAB0505"],"range":["#333333","#c4bc00","#0000ff","#ff0000"]},"legend":null}},
 "layer":[
  {"transform":[{"filter":"isValid(datum.m)"}],"mark":{"type":"bar","stroke":"#c8c8c8","strokeWidth":1},"encoding":{"color":{"value":"#808080"},"y":{"field":"m","type":"quantitative","stack":null,"scale":{"domain":[0,8000],"nice":false},"axis":{"values":[0,2000,4000,6000,8000],"tickCount":12,"labelOverlap":false,"labelExpr":"datum.value==0?'0':(datum.value/1000)+'×10³'","title":"Mast Cells"}}}},
  {"transform":[{"filter":"isValid(datum.lo)"}],"mark":{"type":"rule","strokeWidth":1.5},"encoding":{"y":{"field":"lo","type":"quantitative"},"y2":{"field":"hi"}}},
  {"transform":[{"filter":"isValid(datum.hi)"}],"mark":{"type":"tick","orient":"horizontal","size":10,"thickness":1.5},"encoding":{"y":{"field":"hi","type":"quantitative"}}},
  {"transform":[{"filter":"isValid(datum.lo)"}],"mark":{"type":"tick","orient":"horizontal","size":10,"thickness":1.5},"encoding":{"y":{"field":"lo","type":"quantitative"}}},
  {"transform":[{"filter":"isValid(datum.v)"}],"mark":{"type":"point","filled":true,"size":28,"opacity":1},"encoding":{"xOffset":{"field":"k","type":"nominal","scale":{"domain":["Ca","Cb","C3","C1","C2","C4","Cc","Cd","Ja","Jb","J3","J1","J2","J4","Jc","Jd","Fa","Fb","F3","F1","F2","F4","Fc","Fd","Ra","Rb","R3","R1","R2","R4","Rc","Rd"],"paddingInner":0,"paddingOuter":0}},"y":{"field":"v","type":"quantitative"},"shape":{"field":"g","type":"nominal","scale":{"domain":["Control","Control + JAB0505","FOP","FOP + JAB0505"],"range":["circle","square","triangle-up","triangle-down"]},"legend":null}}},
  {"transform":[{"filter":"isValid(datum.top)"}],"mark":{"type":"text","color":"#1a1a1a","baseline":"bottom","dy":{"expr":"-2 - 14*(length(split(datum.s,'\\n'))-1)"},"fontSize":8,"lineBreak":"\n","lineHeight":10.5},"encoding":{"y":{"field":"top","type":"quantitative"},"text":{"field":"s"},"color":{"value":"#1a1a1a"}}}
 ],
 "resolve":{"scale":{"xOffset":"independent"}}},
{"title":{"text":"H","dy":3},"width":166,"height":108,"data":{"name":"all"},"transform":[{"filter":"datum.p=='H'"}],
 "encoding":{"x":{"field":"d","type":"nominal","title":null,"sort":["Day 5","Day 10"],"scale":{"paddingInner":0.12,"paddingOuter":0.06}},"xOffset":{"field":"g","type":"nominal","scale":{"domain":["Control","Control + JAB0505","FOP","FOP + JAB0505"],"paddingInner":0.2,"paddingOuter":0.1}},"color":{"field":"g","type":"nominal","scale":{"domain":["Control","Control + JAB0505","FOP","FOP + JAB0505"],"range":["#333333","#c4bc00","#0000ff","#ff0000"]},"legend":null}},
 "layer":[
  {"transform":[{"filter":"isValid(datum.m)"}],"mark":{"type":"bar","stroke":"#c8c8c8","strokeWidth":1},"encoding":{"color":{"value":"#808080"},"y":{"field":"m","type":"quantitative","stack":null,"scale":{"domain":[0,40000],"nice":false},"axis":{"values":[0,10000,20000,30000,40000],"tickCount":12,"labelOverlap":false,"labelExpr":"datum.value==0?'0':(datum.value/10000)+'×10⁴'","title":"T Cells"}}}},
  {"transform":[{"filter":"isValid(datum.lo)"}],"mark":{"type":"rule","strokeWidth":1.5},"encoding":{"y":{"field":"lo","type":"quantitative"},"y2":{"field":"hi"}}},
  {"transform":[{"filter":"isValid(datum.hi)"}],"mark":{"type":"tick","orient":"horizontal","size":10,"thickness":1.5},"encoding":{"y":{"field":"hi","type":"quantitative"}}},
  {"transform":[{"filter":"isValid(datum.lo)"}],"mark":{"type":"tick","orient":"horizontal","size":10,"thickness":1.5},"encoding":{"y":{"field":"lo","type":"quantitative"}}},
  {"transform":[{"filter":"isValid(datum.v)"}],"mark":{"type":"point","filled":true,"size":28,"opacity":1},"encoding":{"xOffset":{"field":"k","type":"nominal","scale":{"domain":["Ca","Cb","C3","C1","C2","C4","Cc","Cd","Ja","Jb","J3","J1","J2","J4","Jc","Jd","Fa","Fb","F3","F1","F2","F4","Fc","Fd","Ra","Rb","R3","R1","R2","R4","Rc","Rd"],"paddingInner":0,"paddingOuter":0}},"y":{"field":"v","type":"quantitative"},"shape":{"field":"g","type":"nominal","scale":{"domain":["Control","Control + JAB0505","FOP","FOP + JAB0505"],"range":["circle","square","triangle-up","triangle-down"]},"legend":null}}}
 ],
 "resolve":{"scale":{"xOffset":"independent"}}},
{"width":166,"height":108,
 "data":{"values":[{"g":"Control"},{"g":"Control + JAB0505"},{"g":"FOP"},{"g":"FOP + JAB0505"}]},
 "mark":{"type":"point","filled":true,"opacity":0},
 "encoding":{
  "color":{"field":"g","type":"nominal","scale":{"domain":["Control","Control + JAB0505","FOP","FOP + JAB0505"],"range":["#333333","#c4bc00","#0000ff","#ff0000"]},"legend":{"orient":"none","legendX":-19,"legendY":12,"title":null,"symbolOpacity":1,"symbolSize":45,"symbolStrokeWidth":0,"labelFontSize":10.5,"labelColor":"#000000","labelOffset":11,"rowPadding":5.5}},
  "shape":{"field":"g","type":"nominal","scale":{"domain":["Control","Control + JAB0505","FOP","FOP + JAB0505"],"range":["circle","square","triangle-up","triangle-down"]},"legend":{"orient":"none","legendX":-19,"legendY":12,"title":null,"symbolOpacity":1,"symbolSize":45,"symbolStrokeWidth":0,"labelFontSize":10.5,"labelColor":"#000000","labelOffset":11,"rowPadding":5.5}}
 }}
]
}
